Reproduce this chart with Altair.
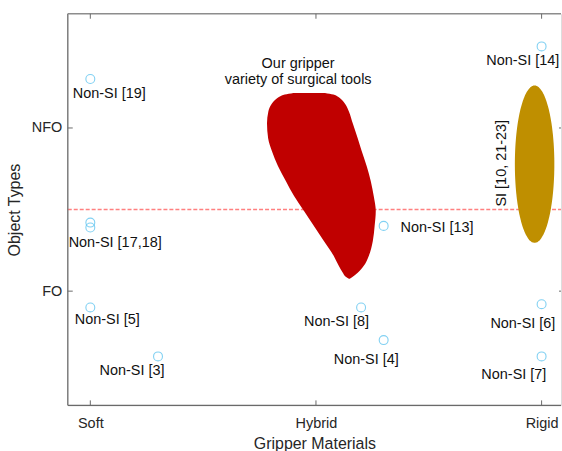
import altair as alt
import pandas as pd
import numpy as np

# ---- axes ----
x_ticks = [1, 2, 3]
x_tick_labels = ["Soft", "Hybrid", "Rigid"]
y_ticks = [1, 2]
y_tick_labels = ["FO", "NFO"]
x_domain = [0.9, 3.086]
y_domain = [0.3, 2.7]
threshold_y = 1.5

# ---- Non-SI points ----
pt_x = [1, 1, 1, 1, 1.3, 2.2, 2.3, 2.3, 3, 3, 3]
pt_y = [2.3, 1.42, 1.39, 0.9, 0.6, 0.9, 0.7, 1.4, 2.5, 0.92, 0.6]

# ---- point labels ----
lab_text = ["Non-SI [19]", "Non-SI [17,18]", "Non-SI [5]", "Non-SI [3]", "Non-SI [8]",
            "Non-SI [4]", "Non-SI [13]", "Non-SI [14]", "Non-SI [6]", "Non-SI [7]"]
lab_x = [0.922, 0.904, 0.931, 1.041, 1.947, 2.079, 2.375, 2.755, 2.773, 2.733]
lab_y = [2.211, 1.295, 0.825, 0.508, 0.813, 0.578, 1.387, 2.413, 0.801, 0.489]

# ---- "our gripper" region outline (left / right edges per level) ----
blob_y = [2.2145, 2.2053, 2.1931, 2.1748, 2.1443, 2.1015, 2.0282, 1.9366, 1.8573, 1.7656,
          1.6740, 1.5824, 1.4908, 1.3992, 1.3076, 1.2160, 1.1550, 1.1122, 1.0878, 1.0756]
blob_xl = [1.900, 1.862, 1.840, 1.821, 1.802, 1.789, 1.783, 1.788, 1.805, 1.832,
           1.867, 1.903, 1.947, 1.991, 2.035, 2.079, 2.101, 2.119, 2.132, 2.146]
blob_xr = [2.040, 2.077, 2.096, 2.113, 2.131, 2.146, 2.163, 2.185, 2.203, 2.225,
           2.243, 2.256, 2.265, 2.260, 2.252, 2.234, 2.212, 2.185, 2.163, 2.150]

# ---- SI ellipse ----
ell_cx, ell_cy, ell_a, ell_b = 2.969, 1.778, 0.0875, 0.482
t = np.linspace(-np.pi / 2, np.pi / 2, 81)
ell_df = pd.DataFrame({
    "y": ell_cy + ell_b * np.sin(t),
    "xl": ell_cx - ell_a * np.cos(t),
    "xr": ell_cx + ell_a * np.cos(t),
})

# ---- annotations ----
ann_text = ["Our gripper", "variety of surgical tools"]
ann_x = [1.921, 1.921]
ann_y = [2.395, 2.291]
si_text = ["SI [10, 21-23]"]
si_x = [2.826]
si_y = [1.784]

W, H = 495, 393
FONT = "Liberation Sans"
AXC = "#6a6a6a"
TXT = "#262626"

xs = alt.Scale(domain=x_domain, nice=False, zero=False)
ys = alt.Scale(domain=y_domain, nice=False, zero=False)

def lab_expr(vals, labs):
    parts = " : ".join(f"datum.value == {v} ? '{l}'" for v, l in zip(vals, labs))
    return parts + " : ''"

x_axis = alt.Axis(values=x_ticks, labelExpr=lab_expr(x_ticks, x_tick_labels), title="Gripper Materials",
                  grid=False, domain=False, ticks=False, tickSize=0, labelPadding=11,
                  labelFont=FONT, labelFontSize=14.5, labelColor=TXT,
                  titleFont=FONT, titleFontSize=16, titleFontWeight="normal", titleColor=TXT, titlePadding=6)
y_axis = alt.Axis(values=y_ticks, labelExpr=lab_expr(y_ticks, y_tick_labels), title="Object Types",
                  grid=False, domain=False, ticks=False, tickSize=0, labelPadding=6,
                  labelFont=FONT, labelFontSize=14.5, labelColor=TXT,
                  titleFont=FONT, titleFontSize=16, titleFontWeight="normal", titleColor=TXT, titlePadding=9)

pts_df = pd.DataFrame({"x": pt_x, "y": pt_y})
lab_df = pd.DataFrame({"x": lab_x, "y": lab_y, "t": lab_text})
blob_df = pd.DataFrame({"y": blob_y, "xl": blob_xl, "xr": blob_xr})
ann_df = pd.DataFrame({"x": ann_x, "y": ann_y, "t": ann_text})
si_df = pd.DataFrame({"x": si_x, "y": si_y, "t": si_text})
xt_df = pd.DataFrame({"v": x_ticks})
yt_df = pd.DataFrame({"v": y_ticks})

base_pts = alt.Chart(pts_df).mark_point(shape="circle", filled=False, size=80, stroke="#4DBEEE",
                                        strokeWidth=1.1).encode(
    x=alt.X("x:Q", scale=xs, axis=x_axis), y=alt.Y("y:Q", scale=ys, axis=y_axis))

thresh = alt.Chart(pd.DataFrame({"y": [threshold_y]})).mark_rule(
    stroke="#FF8080", strokeDash=[4, 2], strokeWidth=1.4).encode(
    y=alt.Y("y:Q", scale=ys), x=alt.value(0), x2=alt.value(W))

blob = alt.Chart(blob_df).mark_area(orient="horizontal", interpolate="monotone", color="#C00000").encode(
    y=alt.Y("y:Q", scale=ys), x=alt.X("xl:Q", scale=xs, stack=False), x2="xr:Q")

ell = alt.Chart(ell_df).mark_area(orient="horizontal", interpolate="monotone", color="#BF8F00").encode(
    y=alt.Y("y:Q", scale=ys), x=alt.X("xl:Q", scale=xs, stack=False), x2="xr:Q")

labels = alt.Chart(lab_df).mark_text(align="left", baseline="middle", font=FONT, fontSize=14.5,
                                     color="#111111").encode(
    x=alt.X("x:Q", scale=xs), y=alt.Y("y:Q", scale=ys), text="t:N")

ann = alt.Chart(ann_df).mark_text(align="center", baseline="middle", font=FONT, fontSize=14.5,
                                  color="#111111").encode(
    x=alt.X("x:Q", scale=xs), y=alt.Y("y:Q", scale=ys), text="t:N")

si = alt.Chart(si_df).mark_text(align="center", baseline="middle", angle=270, font=FONT, fontSize=14.5,
                                color="#111111").encode(
    x=alt.X("x:Q", scale=xs), y=alt.Y("y:Q", scale=ys), text="t:N")

# frame (left, top, bottom; right edge lies at the canvas edge)
frame_h = alt.Chart(pd.DataFrame({"k": [0, 1]})).mark_rule(color=AXC, strokeWidth=1.2).encode(
    y=alt.Y("k:Q", scale=alt.Scale(domain=[1, 0], range=[0, H]), axis=None),
    x=alt.value(0), x2=alt.value(W))
frame_l = alt.Chart(pd.DataFrame({"k": [0]})).mark_rule(color=AXC, strokeWidth=1.2).encode(
    x=alt.value(0), y=alt.value(0), y2=alt.value(H))

xt_bot = alt.Chart(xt_df).mark_rule(color=AXC, strokeWidth=1).encode(
    x=alt.X("v:Q", scale=xs), y=alt.value(H), y2=alt.value(H - 5))
xt_top = alt.Chart(xt_df).mark_rule(color=AXC, strokeWidth=1).encode(
    x=alt.X("v:Q", scale=xs), y=alt.value(0), y2=alt.value(5))
yt_left = alt.Chart(yt_df).mark_rule(color=AXC, strokeWidth=1).encode(
    y=alt.Y("v:Q", scale=ys), x=alt.value(0), x2=alt.value(5))
yt_right = alt.Chart(yt_df).mark_rule(color=AXC, strokeWidth=1).encode(
    y=alt.Y("v:Q", scale=ys), x=alt.value(W - 2), x2=alt.value(W))

main = alt.layer(base_pts, thresh, blob, ell, labels, ann, si, xt_bot, xt_top, yt_left, yt_right)
frame = alt.layer(frame_h, frame_l)

chart = alt.layer(main, frame).resolve_scale(y="independent").properties(
    width=W, height=H, padding={"left": 6, "top": 12, "right": 0, "bottom": 0}
).configure_view(strokeWidth=0).configure(background="white")

chart.save("out.html", embed_options={"renderer": "svg", "actions": False})
